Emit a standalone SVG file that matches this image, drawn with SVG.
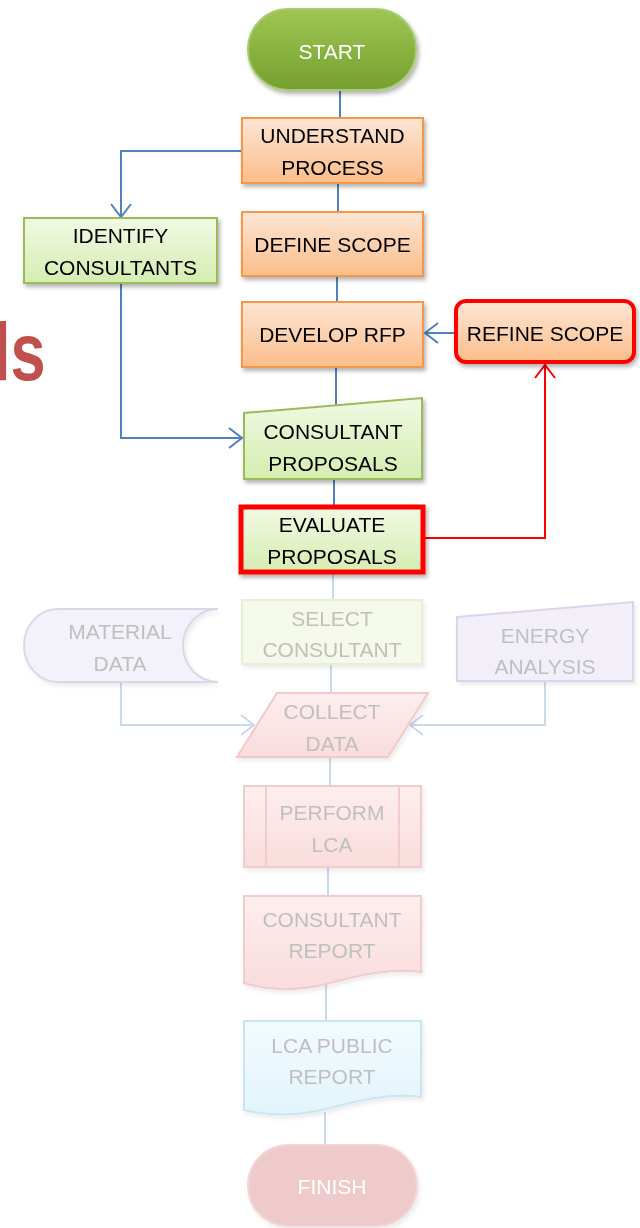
<svg xmlns="http://www.w3.org/2000/svg" width="640" height="1228" viewBox="0 0 640 1228">
<defs>
<style>
text{font-family:"Liberation Sans",Arial,sans-serif;font-size:21px;text-anchor:middle;fill:#000}
.faded text,text.f{fill:#bfbfbf}
.c{fill:none;stroke:#4f81bd;stroke-width:2}
.cf{fill:none;stroke:#c9d9ee;stroke-width:2}
.cr{fill:none;stroke:#ff0000;stroke-width:2}
.or{fill:url(#gOr);stroke:#f79646;stroke-width:2}
.gr{fill:url(#gGr);stroke:#9bbb59;stroke-width:2}
</style>
<linearGradient id="gOr" x1="0" y1="0" x2="0" y2="1"><stop offset="0" stop-color="#fde6d5"/><stop offset="1" stop-color="#fbbd8a"/></linearGradient>
<linearGradient id="gGr" x1="0" y1="0" x2="0" y2="1"><stop offset="0" stop-color="#f1f9e4"/><stop offset="1" stop-color="#d5edb0"/></linearGradient>
<linearGradient id="gSt" x1="0" y1="0" x2="0" y2="1"><stop offset="0" stop-color="#9fc653"/><stop offset="1" stop-color="#74a02f"/></linearGradient>
<linearGradient id="gPk" x1="0" y1="0" x2="0" y2="1"><stop offset="0" stop-color="#fdeeee"/><stop offset="1" stop-color="#fadcdc"/></linearGradient>
<linearGradient id="gBl" x1="0" y1="0" x2="0" y2="1"><stop offset="0" stop-color="#f3fbfe"/><stop offset="1" stop-color="#e2f4fb"/></linearGradient>
<filter id="sh" x="-10%" y="-10%" width="130%" height="140%"><feDropShadow dx="2" dy="3" stdDeviation="2" flood-color="#000" flood-opacity="0.3"/></filter>
<filter id="shf" x="-10%" y="-10%" width="130%" height="140%"><feDropShadow dx="2" dy="3" stdDeviation="2" flood-color="#000" flood-opacity="0.08"/></filter>
<marker id="ab" viewBox="0 0 16 22" refX="14" refY="11" markerWidth="16" markerHeight="22" markerUnits="userSpaceOnUse" orient="auto"><path d="M1,1 L14,11 L1,21" fill="none" stroke="#4f81bd" stroke-width="2"/></marker>
<marker id="af" viewBox="0 0 16 22" refX="14" refY="11" markerWidth="16" markerHeight="22" markerUnits="userSpaceOnUse" orient="auto"><path d="M1,1 L14,11 L1,21" fill="none" stroke="#c9d9ee" stroke-width="2"/></marker>
<marker id="ar" viewBox="0 0 16 22" refX="14" refY="11" markerWidth="16" markerHeight="22" markerUnits="userSpaceOnUse" orient="auto"><path d="M1,1 L14,11 L1,21" fill="none" stroke="#ff0000" stroke-width="2"/></marker>
</defs>
<rect width="640" height="1228" fill="#ffffff"/>

<text transform="translate(-7,380) scale(0.77,1)" x="0" y="0" style="font-size:82px;font-weight:bold;fill:#c0504d;text-anchor:start">ls</text>

<g id="connectors">
<path class="c" d="M340,90 V118"/>
<path class="c" d="M338,183 V212"/>
<path class="c" d="M337,276 V302"/>
<path class="c" d="M336,367 V406"/>
<path class="c" d="M334,479 V506"/>
<path class="cf" d="M333,574 V600"/>
<path class="cf" d="M331,664 V693"/>
<path class="cf" d="M330,757 V786"/>
<path class="cf" d="M328,867 V896"/>
<path class="cf" d="M326,984 V1021"/>
<path class="cf" d="M325,1112 V1145"/>
<path class="c" d="M242,151 H121 V217" marker-end="url(#ab)"/>
<path class="c" d="M121,283 V438 H242" marker-end="url(#ab)"/>
<path class="c" d="M455,333 H425" marker-end="url(#ab)"/>
<path class="cr" d="M425,538 H545 V365" marker-end="url(#ar)"/>
<path class="cf" d="M121,682 V725 H254" marker-end="url(#af)"/>
<path class="cf" d="M545,681 V725 H410" marker-end="url(#af)"/>
</g>

<g id="start" filter="url(#sh)">
<rect x="248" y="9" width="168" height="81" rx="40" fill="url(#gSt)" stroke="#a9cb70" stroke-width="2"/>
<text x="332" y="59" style="fill:#fff">START</text>
</g>

<g id="understand" filter="url(#sh)">
<rect class="or" x="242" y="118" width="181" height="65"/>
<text x="332.5" y="143">UNDERSTAND</text>
<text x="332.5" y="175">PROCESS</text>
</g>

<g id="identify" filter="url(#sh)">
<rect class="gr" x="24" y="218" width="193" height="65"/>
<text x="120.5" y="243">IDENTIFY</text>
<text x="120.5" y="275">CONSULTANTS</text>
</g>

<g id="define" filter="url(#sh)">
<rect class="or" x="242" y="212" width="181" height="64"/>
<text x="332.5" y="252">DEFINE SCOPE</text>
</g>

<g id="develop" filter="url(#sh)">
<rect class="or" x="242" y="302" width="181" height="65"/>
<text x="332.5" y="342">DEVELOP RFP</text>
</g>

<g id="refine" filter="url(#sh)">
<rect x="456" y="301" width="178" height="61" rx="10" fill="url(#gOr)" stroke="#ff0000" stroke-width="4"/>
<text x="545" y="341">REFINE SCOPE</text>
</g>

<g id="proposals" filter="url(#sh)">
<polygon class="gr" points="244,413 422,398 422,479 244,479"/>
<text x="333" y="439">CONSULTANT</text>
<text x="333" y="471">PROPOSALS</text>
</g>

<g id="evaluate" filter="url(#sh)">
<rect x="241" y="507" width="182" height="65" fill="url(#gGr)" stroke="#ff0000" stroke-width="5"/>
<text x="332" y="532">EVALUATE</text>
<text x="332" y="564">PROPOSALS</text>
</g>

<g id="select" class="faded" filter="url(#shf)">
<rect x="242" y="600" width="180" height="64" fill="#f4f9ea" stroke="#e6f0d5" stroke-width="2"/>
<text x="332" y="626">SELECT</text>
<text x="332" y="657">CONSULTANT</text>
</g>

<g id="material" class="faded" filter="url(#shf)">
<path d="M58,609 H218 A35,36.5 0 0 0 218,682 H58 A34,36.5 0 0 1 58,609 Z" fill="#f3f1f9" stroke="#ddd6ea" stroke-width="2"/>
<text x="120" y="639">MATERIAL</text>
<text x="120" y="671">DATA</text>
</g>

<g id="energy" class="faded" filter="url(#shf)">
<polygon points="457,617 633,602 633,681 457,681" fill="#f2eff8" stroke="#ddd4ec" stroke-width="2"/>
<text x="545" y="643">ENERGY</text>
<text x="545" y="674">ANALYSIS</text>
</g>

<g id="collect" class="faded" filter="url(#shf)">
<polygon points="277,693 428,693 388,757 237,757" fill="url(#gPk)" stroke="#f3c8c8" stroke-width="2"/>
<text x="332" y="719">COLLECT</text>
<text x="332" y="751">DATA</text>
</g>

<g id="perform" class="faded" filter="url(#shf)">
<rect x="244" y="786" width="177" height="81" fill="url(#gPk)" stroke="#f2cccc" stroke-width="2"/>
<path d="M266,786 V867 M399,786 V867" stroke="#f2cccc" stroke-width="2" fill="none"/>
<text x="332" y="820">PERFORM</text>
<text x="332" y="852">LCA</text>
</g>

<g id="report" class="faded" filter="url(#shf)">
<path d="M244,896 H421 V972 C390,968 360,975 330,983 C300,991 270,991 244,983 Z" fill="url(#gPk)" stroke="#f2cccc" stroke-width="2"/>
<text x="332" y="927">CONSULTANT</text>
<text x="332" y="958">REPORT</text>
</g>

<g id="public" class="faded" filter="url(#shf)">
<path d="M244,1021 H421 V1097 C390,1093 360,1100 330,1108 C300,1116 270,1116 244,1110 Z" fill="url(#gBl)" stroke="#c8e6f2" stroke-width="2"/>
<text x="332" y="1053">LCA PUBLIC</text>
<text x="332" y="1084">REPORT</text>
</g>

<g id="finish" filter="url(#shf)">
<rect x="248" y="1145" width="169" height="81" rx="40" fill="#efcaca" stroke="#f2d6d6" stroke-width="2"/>
<text x="332" y="1194" style="fill:#fff">FINISH</text>
</g>
</svg>
